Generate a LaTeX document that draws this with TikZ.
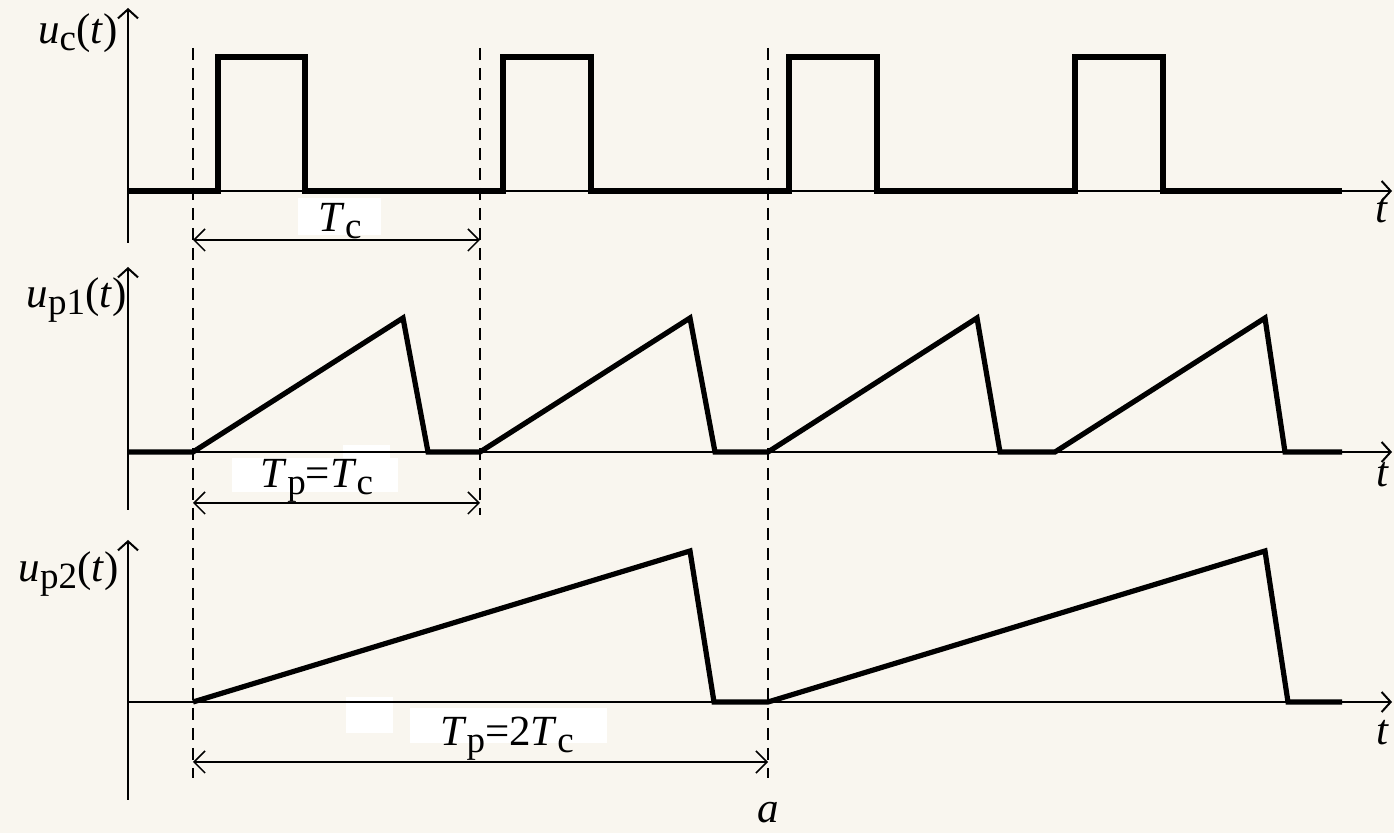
\documentclass[tikz,border=0pt]{standalone}
\usepackage{fontspec}
\setmainfont{Liberation Serif}
\usetikzlibrary{arrows.meta}
\definecolor{bg}{RGB}{249,246,239}
\newcommand{\sbs}[1]{\raisebox{-0.35ex}{\fontsize{18.5}{19}\selectfont #1}}
\tikzset{
  sig/.style={line width=2.6pt, line join=miter},
  axisline/.style={line width=1pt, -{Straight Barb[length=4.5pt,width=10pt,line width=1pt]}},
  dimline/.style={line width=0.75pt, {Straight Barb[length=5.5pt,width=11pt]}-{Straight Barb[length=5.5pt,width=11pt]}},
  guide/.style={line width=0.75pt, dash pattern=on 6pt off 4pt},
  lbl/.style={font=\fontsize{21.5}{24}\selectfont, inner sep=0pt},
}
\begin{document}
\begin{tikzpicture}[x=0.5pt,y=-0.5pt]
\fill[bg] (0,0) rectangle (1394,833);
\useasboundingbox (0,0) rectangle (1394,833);

% white label boxes
\fill[white] (298,198) rectangle (381,235);
\fill[white] (232,458) rectangle (398,492);
\fill[white] (343,445) rectangle (390,458);
\fill[white] (410,708) rectangle (607,743);
\fill[white] (346,697) rectangle (393,733);

% coordinates
\coordinate (g1t) at (193,48);  \coordinate (g1b) at (193,778);
\coordinate (g2t) at (480,48);  \coordinate (g2b) at (480,515);
\coordinate (g3t) at (768,48);  \coordinate (g3b) at (768,778);

% dashed guides
\draw[guide] (g1t) -- (g1b);
\draw[guide] (g2t) -- (g2b);
\draw[guide] (g3t) -- (g3b);

% axes
\coordinate (o1) at (128,191); \coordinate (o2) at (128,452); \coordinate (o3) at (128,702);
\draw[axisline] (128,243) -- (128,8);
\draw[axisline] (o1) -- (1392,191);
\draw[axisline] (128,510) -- (128,267);
\draw[axisline] (o2) -- (1392,452);
\draw[axisline] (128,800) -- (128,540);
\draw[axisline] (o3) -- (1392,702);

% u_c pulses
\draw[sig] (o1) -- (218,191) -- (218,57) -- (305,57) -- (305,191) -- (503,191)
  -- (503,57) -- (591,57) -- (591,191) -- (789,191) -- (789,57) -- (877,57)
  -- (877,191) -- (1075,191) -- (1075,57) -- (1163,57) -- (1163,191) -- (1342,191);

% u_p1 sawtooth
\draw[sig] (o2) -- (193,452) -- (403,318) -- (428,452) -- (480,452) -- (690,318)
  -- (715,452) -- (768,452) -- (977,318) -- (1000,452) -- (1055,452) -- (1265,318)
  -- (1285,452) -- (1342,452);

% u_p2 sawtooth
\draw[sig] (193,702) -- (690,551) -- (714,702) -- (768,702) -- (1265,551)
  -- (1288,702) -- (1342,702);

% dimension arrows
\coordinate (d1a) at (193,240); \coordinate (d1b) at (480,240);
\coordinate (d2a) at (193,503); \coordinate (d2b) at (480,503);
\coordinate (d3a) at (193,762); \coordinate (d3b) at (768,762);
\draw[dimline] (d1a) -- (d1b);
\draw[dimline] (d2a) -- (d2b);
\draw[dimline] (d3a) -- (d3b);

% labels
\node[lbl, anchor=base] (tc) at (340,232) {\textit{T}\sbs{c}};
\node[lbl, anchor=base] (tp1) at (317,488) {\textit{T}\sbs{p}=\textit{T}\sbs{c}};
\node[lbl, anchor=base] (tp2) at (507,746) {\textit{T}\sbs{p}=2\textit{T}\sbs{c}};
\node[lbl, anchor=base east] (uc) at (118,44) {\textit{u}\sbs{c}(\textit{t})};
\node[lbl, anchor=base east] (up1) at (127,308) {\textit{u}\sbs{p1}(\textit{t})};
\node[lbl, anchor=base east] (up2) at (119,582) {\textit{u}\sbs{p2}(\textit{t})};
\node[lbl, anchor=base] (t1) at (1382,223) {\textit{t}};
\node[lbl, anchor=base] (t2) at (1383,487) {\textit{t}};
\node[lbl, anchor=base] (t3) at (1383,745) {\textit{t}};
\node[lbl, anchor=base] (a) at (768,823) {\textit{a}};
\end{tikzpicture}
\end{document}
